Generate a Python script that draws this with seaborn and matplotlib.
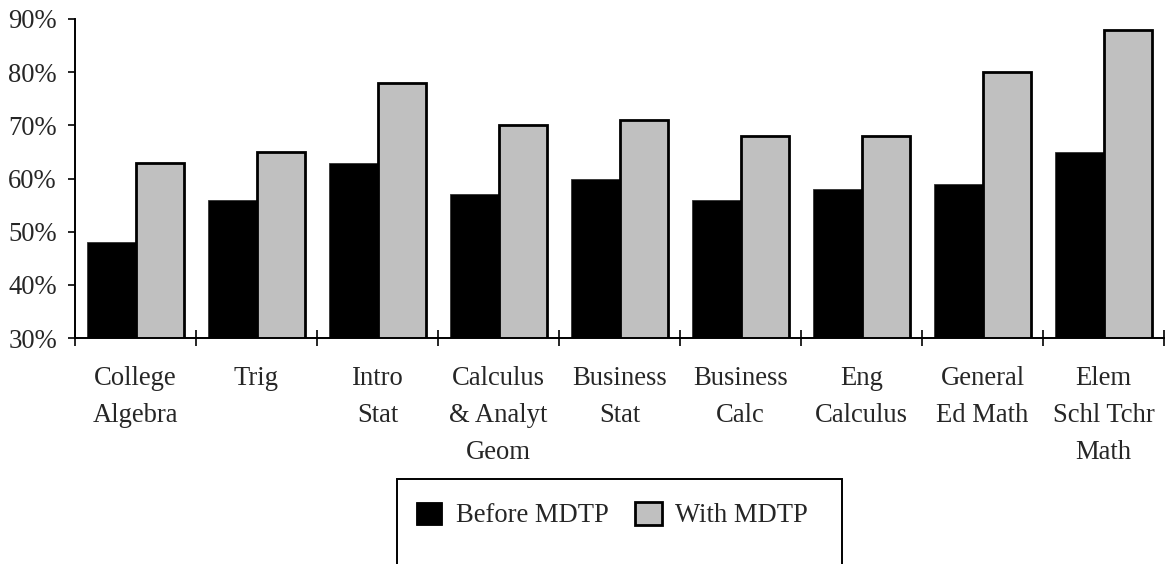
import numpy as np
import pandas as pd
import matplotlib
matplotlib.use("Agg")
import matplotlib.pyplot as plt
from matplotlib.patches import Patch, Rectangle
import seaborn as sns

#%% data
courses = ["College\nAlgebra", "Trig", "Intro\nStat", "Calculus\n& Analyt\nGeom",
           "Business\nStat", "Business\nCalc", "Eng\nCalculus", "General\nEd Math",
           "Elem\nSchl Tchr\nMath"]
beforeMDTP = [48, 56, 63, 57, 60, 56, 58, 59, 65]
withMDTP = [63, 65, 78, 70, 71, 68, 68, 80, 88]
seriesNames = ["Before MDTP", "With MDTP"]
yTicks = [30, 40, 50, 60, 70, 80, 90]
yTickLabels = ["30%", "40%", "50%", "60%", "70%", "80%", "90%"]

df = pd.DataFrame({
    "Course": courses * 2,
    "Series": [seriesNames[0]] * len(courses) + [seriesNames[1]] * len(courses),
    "Percent": beforeMDTP + withMDTP,
})

#%% style
sns.set_style("ticks")
plt.rcParams["font.family"] = ["Liberation Serif", "DejaVu Serif"]
fs = 19.2
plt.rcParams["font.size"] = fs

colors = ["#000000", "#c0c0c0"]

fig = plt.figure(figsize=(11.71, 5.64), dpi=100)
ax = fig.add_axes([75 / 1171, 1 - 338 / 564, (1164 - 75) / 1171, (338 - 19) / 564])

sns.barplot(data=df, x="Course", y="Percent", hue="Series", palette=colors,
            width=0.8, order=courses, hue_order=seriesNames, legend=False, ax=ax,
            saturation=1)

# edge styles: thin edge on black bars, heavy black edge on grey bars
for bar in ax.containers[0]:
    bar.set_edgecolor("#333333")
    bar.set_linewidth(0.6)
for bar in ax.containers[1]:
    bar.set_edgecolor("black")
    bar.set_linewidth(2.0)

ax.set_ylim(30, 90)
ax.set_xlim(-0.5, len(courses) - 0.5)
ax.set_yticks(yTicks)
ax.set_yticklabels(yTickLabels)
ax.set_xlabel("")
ax.set_ylabel("")

# category boundary ticks crossing the axis
ax.set_xticks(np.arange(-0.5, len(courses), 1), minor=True)
ax.tick_params(axis="x", which="major", length=0, pad=20, labelsize=fs)
ax.tick_params(axis="x", which="minor", direction="inout", length=12, width=1.4)
ax.tick_params(axis="y", which="major", direction="out", length=5, width=1.4, pad=8,
               labelsize=fs)
for lbl in ax.get_xticklabels():
    lbl.set_linespacing(1.65)
    lbl.set_verticalalignment("top")

sns.despine(ax=ax, top=True, right=True)
for side in ["left", "bottom"]:
    ax.spines[side].set_linewidth(1.4)
    ax.spines[side].set_color("black")

#%% legend box (runs off the bottom edge)
fig.patches.append(Rectangle((397 / 1171, -0.1), (842 - 397) / 1171, 0.1 + 1 - 479 / 564,
                             transform=fig.transFigure, facecolor="none",
                             edgecolor="black", linewidth=1.4, zorder=5))
handles = [Patch(facecolor=colors[0], edgecolor="black", linewidth=0.6),
           Patch(facecolor=colors[1], edgecolor="black", linewidth=2.0)]
fig.legend(handles, seriesNames, loc="center", bbox_to_anchor=(612 / 1171, 1 - 515 / 564),
           ncol=2, frameon=False, handlelength=1.0, handleheight=0.95,
           handletextpad=0.5, columnspacing=1.0, fontsize=fs)

fig.savefig("out.png", dpi=100)
